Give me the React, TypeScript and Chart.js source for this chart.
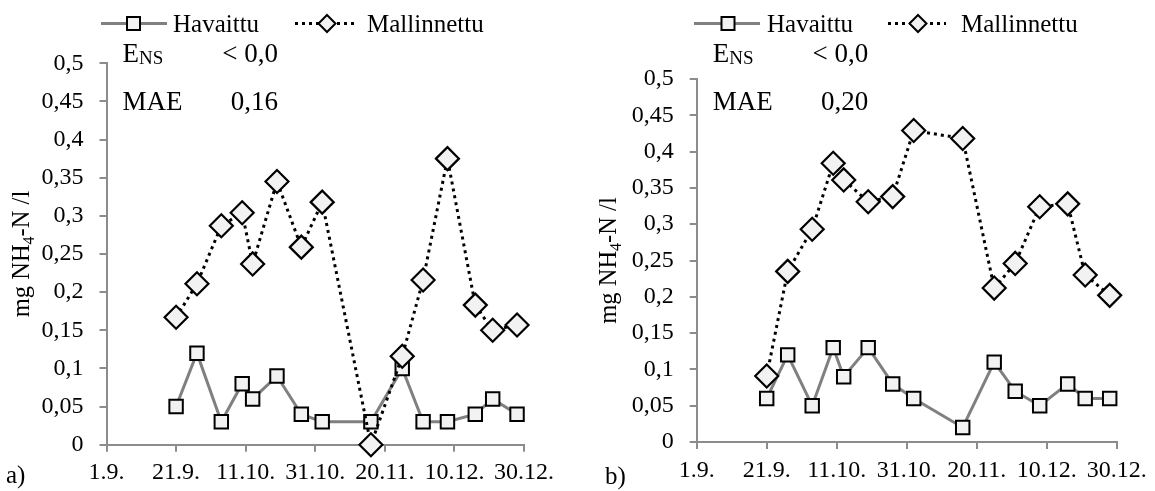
import React, { useEffect, useRef } from "react";
import { Chart, registerables } from "chart.js";

Chart.register(...registerables);

// ---------- data ----------
const xTickLabels = ["1.9.", "21.9.", "11.10.", "31.10.", "20.11.", "10.12.", "30.12."];
const yTickLabels = ["0", "0,05", "0,1", "0,15", "0,2", "0,25", "0,3", "0,35", "0,4", "0,45", "0,5"];
// sampling days counted from 1.9.
const sampleDays = [20, 26, 33, 39, 42, 49, 56, 62, 76, 85, 91, 98, 106, 111, 118];

const observedA = [0.05, 0.12, 0.03, 0.08, 0.06, 0.09, 0.04, 0.03, 0.03, 0.1, 0.03, 0.03, 0.04, 0.06, 0.04];
const modelledA = [0.167, 0.211, 0.287, 0.304, 0.237, 0.345, 0.259, 0.318, 0.0, 0.116, 0.216, 0.375, 0.183, 0.15, 0.157];

const observedB = [0.06, 0.12, 0.05, 0.13, 0.09, 0.13, 0.08, 0.06, 0.02, 0.11, 0.07, 0.05, 0.08, 0.06, 0.06];
const modelledB = [0.091, 0.235, 0.293, 0.384, 0.361, 0.331, 0.338, 0.429, 0.418, 0.212, 0.246, 0.324, 0.328, 0.23, 0.202];

const seriesNames = ["Havaittu", "Mallinnettu"];
const panelLetters = ["a)", "b)"];
const ensTexts = ["< 0,0", "< 0,0"];
const maeTexts = ["0,16", "0,20"];

// ---------- styling / layout ----------
const FONT = "'Liberation Serif', 'Times New Roman', serif";
const H = 491;
const AXIS_GRAY = "#8c8c8c";
const OBS_GRAY = "#808080";
const MARK_FILL = "#f2f2f2";

type PanelCfg = {
  idx: number;
  left: number;
  width: number;
  areaLeft: number;
  areaRight: number;
  areaTop: number;
  areaBottom: number;
  observed: number[];
  modelled: number[];
  legendY: number;
  legendTextY: number;
  obsLine: [number, number];
  obsMark: number;
  obsText: number;
  modLine: [number, number];
  modMark: number;
  modText: number;
  annX: number;
  annRight: number;
  ensY: number;
  maeY: number;
  titleX: number;
  letterX: number;
  letterY: number;
};

const panels: PanelCfg[] = [
  {
    idx: 0,
    left: 0,
    width: 578,
    areaLeft: 106.5,
    areaRight: 524,
    areaTop: 63.3,
    areaBottom: 444.7,
    observed: observedA,
    modelled: modelledA,
    legendY: 23.5,
    legendTextY: 32,
    obsLine: [101, 167],
    obsMark: 133.5,
    obsText: 173,
    modLine: [295, 356],
    modMark: 327,
    modText: 367,
    annX: 122.5,
    annRight: 278,
    ensY: 61.7,
    maeY: 110,
    titleX: 29,
    letterX: 6,
    letterY: 483,
  },
  {
    idx: 1,
    left: 578,
    width: 577,
    areaLeft: 118.7,
    areaRight: 538.7,
    areaTop: 79,
    areaBottom: 442,
    observed: observedB,
    modelled: modelledB,
    legendY: 23.5,
    legendTextY: 32,
    obsLine: [116, 182],
    obsMark: 150,
    obsText: 189,
    modLine: [310, 368],
    modMark: 340,
    modText: 383,
    annX: 134.7,
    annRight: 290.3,
    ensY: 61.7,
    maeY: 110,
    titleX: 38,
    letterX: 27,
    letterY: 484,
  },
];

function drawSquare(ctx: CanvasRenderingContext2D, x: number, y: number, s: number) {
  ctx.save();
  ctx.fillStyle = MARK_FILL;
  ctx.strokeStyle = "#000";
  ctx.lineWidth = 2;
  ctx.beginPath();
  ctx.rect(x - s / 2, y - s / 2, s, s);
  ctx.fill();
  ctx.stroke();
  ctx.restore();
}

function drawDiamond(ctx: CanvasRenderingContext2D, x: number, y: number, r: number) {
  ctx.save();
  ctx.fillStyle = MARK_FILL;
  ctx.strokeStyle = "#000";
  ctx.lineWidth = 2;
  ctx.beginPath();
  ctx.moveTo(x, y - r);
  ctx.lineTo(x + r, y);
  ctx.lineTo(x, y + r);
  ctx.lineTo(x - r, y);
  ctx.closePath();
  ctx.fill();
  ctx.stroke();
  ctx.restore();
}

function makeOverlay(p: PanelCfg) {
  return {
    id: "overlay" + p.idx,
    afterDraw(chart: any) {
      const ctx: CanvasRenderingContext2D = chart.ctx;
      const area = chart.chartArea;
      ctx.save();
      ctx.fillStyle = "#000";
      ctx.textBaseline = "alphabetic";

      // legend
      ctx.save();
      ctx.strokeStyle = OBS_GRAY;
      ctx.lineWidth = 3;
      ctx.beginPath();
      ctx.moveTo(p.obsLine[0], p.legendY);
      ctx.lineTo(p.obsLine[1], p.legendY);
      ctx.stroke();
      ctx.strokeStyle = "#000";
      ctx.setLineDash([3, 4]);
      ctx.beginPath();
      ctx.moveTo(p.modLine[0], p.legendY);
      ctx.lineTo(p.modLine[1], p.legendY);
      ctx.stroke();
      ctx.restore();
      drawSquare(ctx, p.obsMark, p.legendY, 13);
      drawDiamond(ctx, p.modMark, p.legendY, 8.5);
      ctx.font = `25px ${FONT}`;
      ctx.textAlign = "left";
      ctx.fillText(seriesNames[0], p.obsText, p.legendTextY);
      ctx.fillText(seriesNames[1], p.modText, p.legendTextY);

      // statistics
      ctx.font = `27px ${FONT}`;
      ctx.textAlign = "left";
      ctx.fillText("E", p.annX, p.ensY);
      const eW = ctx.measureText("E").width;
      ctx.font = `19px ${FONT}`;
      ctx.fillText("NS", p.annX + eW, p.ensY + 2);
      ctx.font = `27px ${FONT}`;
      ctx.fillText("MAE", p.annX, p.maeY);
      ctx.textAlign = "right";
      ctx.fillText(ensTexts[p.idx], p.annRight, p.ensY);
      ctx.fillText(maeTexts[p.idx], p.annRight, p.maeY);

      // y-axis title with subscript
      ctx.save();
      const cy = (area.top + area.bottom) / 2;
      ctx.translate(p.titleX, cy);
      ctx.rotate(-Math.PI / 2);
      ctx.textAlign = "left";
      const parts: [string, number, number][] = [
        ["mg NH", 24.5, 0],
        ["4", 16, 5],
        ["-N /l", 24.5, 0],
      ];
      let total = 0;
      for (const [t, s] of parts) {
        ctx.font = `${s}px ${FONT}`;
        total += ctx.measureText(t).width;
      }
      let x = -total / 2;
      for (const [t, s, dy] of parts) {
        ctx.font = `${s}px ${FONT}`;
        ctx.fillText(t, x, dy);
        x += ctx.measureText(t).width;
      }
      ctx.restore();

      // panel letter
      ctx.font = `25px ${FONT}`;
      ctx.textAlign = "left";
      ctx.fillText(panelLetters[p.idx], p.letterX, p.letterY);
      ctx.restore();
    },
  };
}

function Panel({ p }: { p: PanelCfg }) {
  const ref = useRef<HTMLCanvasElement | null>(null);
  useEffect(() => {
    if (!ref.current) return;
    const obsPts = sampleDays.map((d, i) => ({ x: d, y: p.observed[i] }));
    const modPts = sampleDays.map((d, i) => ({ x: d, y: p.modelled[i] }));
    const chart = new Chart(ref.current, {
      type: "line",
      data: {
        datasets: [
          {
            label: seriesNames[0],
            data: obsPts,
            order: 2,
            borderColor: OBS_GRAY,
            borderWidth: 3,
            tension: 0,
            pointStyle: "rect",
            pointRadius: 9.5,
            pointHoverRadius: 9.5,
            pointBackgroundColor: MARK_FILL,
            pointBorderColor: "#000",
            pointBorderWidth: 2,
            clip: false as any,
          },
          {
            label: seriesNames[1],
            data: modPts,
            order: 1,
            borderColor: "#000",
            borderWidth: 3,
            borderDash: [3, 4],
            tension: 0,
            pointStyle: "rectRot",
            pointRadius: 11.5,
            pointHoverRadius: 11.5,
            pointBackgroundColor: MARK_FILL,
            pointBorderColor: "#000",
            pointBorderWidth: 2.2,
            clip: false as any,
          },
        ],
      },
      options: {
        responsive: false,
        animation: false,
        devicePixelRatio: 1,
        layout: {
          padding: { left: 0, top: p.areaTop, right: p.width - p.areaRight, bottom: 0 },
        },
        plugins: {
          legend: { display: false },
          tooltip: { enabled: false },
          title: { display: false },
        },
        events: [],
        scales: {
          x: {
            type: "linear",
            min: 0,
            max: 120,
            afterFit: (s: any) => {
              s.height = H - p.areaBottom;
            },
            ticks: {
              stepSize: 20,
              autoSkip: false,
              maxRotation: 0,
              padding: 7,
              color: "#000",
              font: { family: FONT, size: 24 },
              callback: (_v: any, i: number) => xTickLabels[i],
            },
            grid: {
              drawOnChartArea: false,
              drawTicks: true,
              tickLength: 7,
              color: AXIS_GRAY,
              lineWidth: 2,
            },
            border: { display: true, color: AXIS_GRAY, width: 2 },
          },
          y: {
            type: "linear",
            min: 0,
            max: 0.5,
            afterFit: (s: any) => {
              s.width = p.areaLeft;
            },
            ticks: {
              stepSize: 0.05,
              autoSkip: false,
              padding: 16,
              color: "#000",
              font: { family: FONT, size: 24 },
              callback: (_v: any, i: number) => yTickLabels[i],
            },
            grid: {
              drawOnChartArea: false,
              drawTicks: true,
              tickLength: 7,
              color: AXIS_GRAY,
              lineWidth: 2,
            },
            border: { display: true, color: AXIS_GRAY, width: 2 },
          },
        },
      },
      plugins: [makeOverlay(p)],
    });
    return () => chart.destroy();
  }, [p]);
  return (
    <canvas
      ref={ref}
      width={p.width}
      height={H}
      style={{ position: "absolute", left: p.left, top: 0, width: p.width, height: H }}
    />
  );
}

export default function App() {
  return (
    <div style={{ position: "absolute", left: 0, top: 0, width: 1155, height: H, background: "#fff", overflow: "hidden" }}>
      {panels.map((p) => (
        <Panel key={p.idx} p={p} />
      ))}
    </div>
  );
}
